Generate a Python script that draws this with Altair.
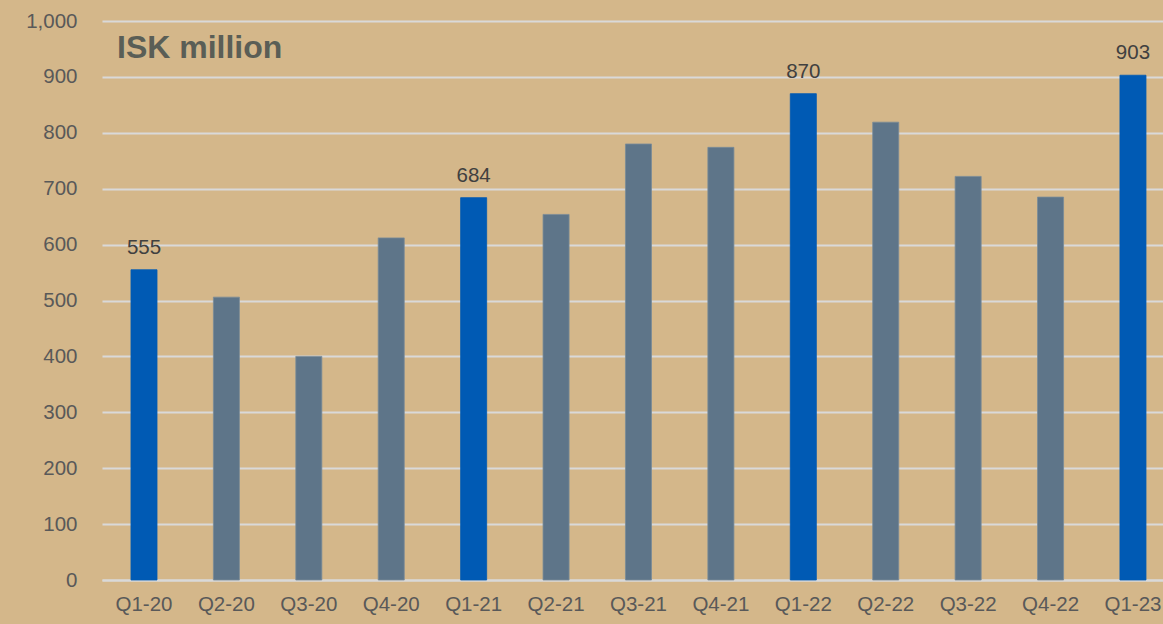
import altair as alt
import pandas as pd

quarters = ["Q1-20", "Q2-20", "Q3-20", "Q4-20", "Q1-21", "Q2-21", "Q3-21",
            "Q4-21", "Q1-22", "Q2-22", "Q3-22", "Q4-22", "Q1-23"]
values = [555, 506, 400, 612, 684, 654, 780, 774, 870, 819, 722, 685, 903]
highlight = [q.startswith("Q1") for q in quarters]
y_ticks = [0, 100, 200, 300, 400, 500, 600, 700, 800, 900, 1000]
title_text = "ISK million"

df = pd.DataFrame({
    "quarter": quarters,
    "value": values,
    "kind": ["Q1" if h else "other" for h in highlight],
    "label": [str(v) if h else "" for v, h in zip(values, highlight)],
})

BG = "#D4B78A"
FONT = "Liberation Sans"

x = alt.X("quarter:N", sort=quarters, title=None,
          scale=alt.Scale(paddingInner=0.684, paddingOuter=0.279, align=0.63),
          axis=alt.Axis(labelAngle=0, labelFontSize=20.5, labelColor="#595959",
                        labelFont=FONT, ticks=False, labelPadding=14,
                        domainColor="#D9D9D9", domainWidth=2, grid=False))
y = alt.Y("value:Q", title=None,
          scale=alt.Scale(domain=[0, 1000], nice=False),
          axis=alt.Axis(values=y_ticks, format=",d", labelFontSize=20.5,
                        labelColor="#595959", labelFont=FONT, ticks=False,
                        domain=False, labelPadding=25, gridColor="#D9D9D9",
                        gridWidth=2))

bars = alt.Chart(df).mark_bar(strokeWidth=0.8).encode(
    x=x, y=y,
    color=alt.Color("kind:N", scale=alt.Scale(domain=["Q1", "other"],
                                              range=["#005AB4", "#5E7589"]),
                    legend=None),
    stroke=alt.Color("kind:N", scale=alt.Scale(domain=["Q1", "other"],
                                               range=["#005AB4", "#7A8C98"]),
                     legend=None),
)

labels = alt.Chart(df).mark_text(
    baseline="alphabetic", dy=-16, fontSize=20.5, color="#404040", font=FONT
).encode(x=alt.X("quarter:N", sort=quarters), y="value:Q", text="label:N")

title = alt.Chart(pd.DataFrame({"t": [title_text]})).mark_text(
    align="left", baseline="alphabetic", fontSize=32, fontWeight="bold",
    color="#5A5E56", font=FONT
).encode(x=alt.value(15), y=alt.value(36.5), text="t:N")

chart = alt.layer(bars, labels, title).properties(
    width=1061, height=559,
    background=BG,
    padding={"left": 102, "top": 21, "right": 0, "bottom": 44},
    autosize=alt.AutoSizeParams(type="none"),
).configure_view(stroke=None)

chart.save("out.html", embed_options={"renderer": "svg", "actions": False})
